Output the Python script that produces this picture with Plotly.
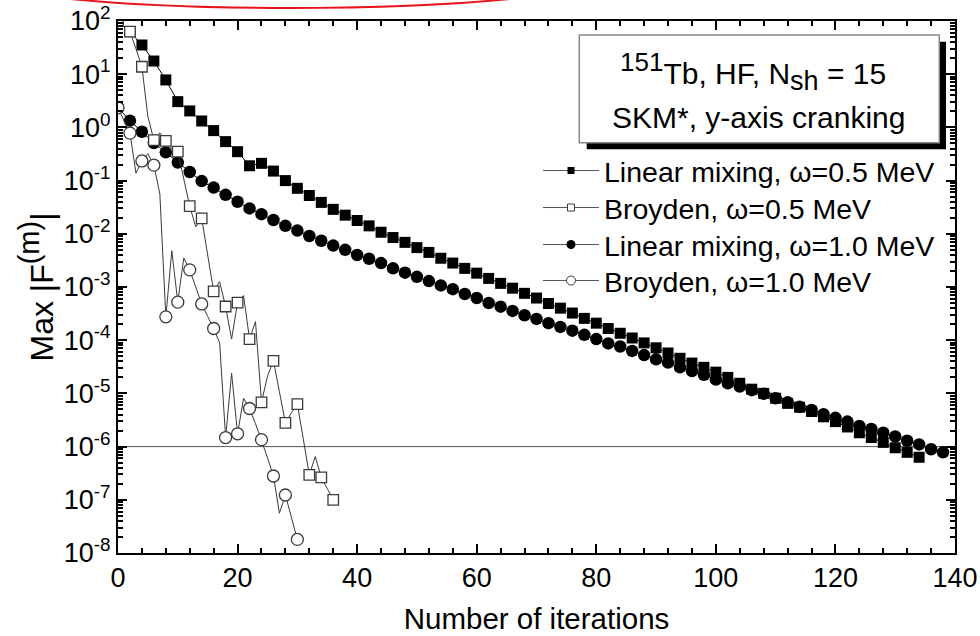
import plotly.graph_objects as go

# ---------------- data ----------------
# Linear mixing, omega = 0.5 MeV  (every 2nd iteration)
lin05_iter = list(range(0, 135, 2))
lin05_val = [
    100, 63, 35.4, 17.7, 7.8, 3.05, 2.04, 1.32, 0.87, 0.54,
    0.35, 0.19, 0.211, 0.151, 0.100, 0.0716, 0.0525, 0.0389, 0.0288, 0.0224,
    0.0178, 0.0141, 0.0107, 8.5e-3, 6.9e-3, 5.5e-3, 4.47e-3, 3.47e-3, 2.82e-3, 2.24e-3,
    1.82e-3, 1.45e-3, 1.17e-3, 9.5e-4, 7.6e-4, 6.2e-4, 4.9e-4, 4.0e-4, 3.24e-4, 2.57e-4,
    2.09e-4, 1.66e-4, 1.35e-4, 1.10e-4, 8.9e-5, 7.2e-5, 5.75e-5, 4.57e-5, 3.72e-5, 3.09e-5,
    2.51e-5, 2.0e-5, 1.55e-5, 1.20e-5, 1.0e-5, 8.1e-6, 6.5e-6, 5.5e-6, 4.57e-6, 3.63e-6,
    2.95e-6, 2.34e-6, 1.82e-6, 1.48e-6, 1.20e-6, 9.5e-7, 7.8e-7, 6.3e-7,
]

# Linear mixing, omega = 1.0 MeV  (every 2nd iteration)
lin10_iter = list(range(0, 139, 2))
lin10_val = [
    2.34, 1.34, 0.83, 0.51, 0.34, 0.219, 0.145, 0.098, 0.074, 0.054,
    0.040, 0.030, 0.0234, 0.0182, 0.0141, 0.0115, 9.1e-3, 7.4e-3, 6.0e-3, 5.0e-3,
    4.0e-3, 3.39e-3, 2.82e-3, 2.24e-3, 1.86e-3, 1.55e-3, 1.29e-3, 1.07e-3, 9.1e-4, 7.4e-4,
    6.2e-4, 5.0e-4, 4.27e-4, 3.55e-4, 2.95e-4, 2.51e-4, 2.09e-4, 1.78e-4, 1.51e-4, 1.26e-4,
    1.05e-4, 8.7e-5, 7.6e-5, 6.3e-5, 5.25e-5, 4.37e-5, 3.80e-5, 3.09e-5, 2.63e-5, 2.24e-5,
    1.82e-5, 1.55e-5, 1.35e-5, 1.15e-5, 9.8e-6, 8.1e-6, 6.8e-6, 5.6e-6, 4.9e-6, 4.07e-6,
    3.47e-6, 2.95e-6, 2.45e-6, 2.14e-6, 1.82e-6, 1.55e-6, 1.29e-6, 1.10e-6, 8.9e-7, 7.8e-7,
]

# Broyden, omega = 0.5 MeV  (every iteration; markers on even ones)
bro05_iter = list(range(0, 37))
bro05_val = [
    100, 80, 63, 30, 13.8, 1.6, 0.575, 0.79, 0.56, 0.40,
    0.35, 0.107, 0.033, 0.0135, 0.0195, 4.0e-3, 8.3e-4, 1.26e-3, 4.3e-4, 1.05e-4,
    5.1e-4, 6.9e-4, 1.05e-4, 2.24e-4, 6.8e-6, 2.1e-5, 4.1e-5, 1.07e-5, 2.8e-6, 4.3e-6,
    6.3e-6, 1.38e-6, 2.95e-7, 6.5e-7, 2.63e-7, 1.62e-7, 1.0e-7,
]

# Broyden, omega = 1.0 MeV  (every iteration; markers on even ones)
bro10_iter = list(range(0, 31))
bro10_val = [
    2.34, 1.35, 0.78, 0.138, 0.234, 0.32, 0.195, 0.056, 2.75e-4, 4.8e-3,
    5.2e-4, 3.5e-3, 2.1e-3, 1.0e-3, 4.8e-4, 2.8e-4, 1.66e-4, 8.9e-5, 1.48e-6, 2.4e-5,
    1.74e-6, 8.1e-6, 5.2e-6, 2.7e-6, 1.35e-6, 6.2e-7, 2.8e-7, 5.6e-8, 1.23e-7, 4.7e-8,
    1.8e-8,
]

threshold = 1e-6
x_range = [0, 140]
y_decades = [-8, -7, -6, -5, -4, -3, -2, -1, 0, 1, 2]
y_ticktext = ["10<sup>%d</sup>" % d for d in y_decades]

legend_names = [
    "Linear mixing, \u03c9=0.5 MeV",
    "Broyden, \u03c9=0.5 MeV",
    "Linear mixing, \u03c9=1.0 MeV",
    "Broyden, \u03c9=1.0 MeV",
]

box_line1 = ("<sup><span style='font-size:26px'>151</span></sup>Tb, HF, "
             "N<sub><span style='font-size:27px'>sh</span></sub> = 15")
box_line2 = "SKM*, y-axis cranking"
y_title = "Max |F<sup><span style='font-size:29px'>(m)</span></sup>|"

# ---------------- layout geometry ----------------
W, H = 980, 636
L, R, T, B = 118, 25, 21, 83
PW, PH = W - L - R, H - T - B


def px(xp):
    return (xp - L) / PW


def py(yp):
    return (H - B - yp) / PH


FONT = "Liberation Sans, Arial, sans-serif"
GRAY = "#3a3a3a"

fig = go.Figure()

# threshold line
fig.add_trace(go.Scatter(x=x_range, y=[threshold, threshold], mode="lines",
                         line=dict(color="#555555", width=1), showlegend=False,
                         hoverinfo="skip"))

# linear mixing
fig.add_trace(go.Scatter(x=lin05_iter, y=lin05_val, mode="lines+markers",
                         line=dict(color="black", width=1),
                         marker=dict(symbol="square", size=11, color="black"),
                         showlegend=False))
fig.add_trace(go.Scatter(x=lin10_iter, y=lin10_val, mode="lines+markers",
                         line=dict(color="black", width=1),
                         marker=dict(symbol="circle", size=12.5, color="black"),
                         showlegend=False))

# Broyden: line through every iteration, markers on the even ones
for xs, ys, sym, sz in [(bro05_iter, bro05_val, "square", 10.5),
                        (bro10_iter, bro10_val, "circle", 12)]:
    fig.add_trace(go.Scatter(x=xs, y=ys, mode="lines",
                             line=dict(color=GRAY, width=1), showlegend=False))
    ex = [a for a in xs if a % 2 == 0]
    ey = [b for a, b in zip(xs, ys) if a % 2 == 0]
    fig.add_trace(go.Scatter(x=ex, y=ey, mode="markers",
                             marker=dict(symbol=sym, size=sz, color="white",
                                         line=dict(color=GRAY, width=1.3)),
                             showlegend=False))

# legend entries (one legend per row for exact placement)
leg_styles = [
    dict(symbol="square", size=7, color="black"),
    dict(symbol="square", size=7, color="white", line=dict(color=GRAY, width=1)),
    dict(symbol="circle", size=9, color="black"),
    dict(symbol="circle", size=9, color="white", line=dict(color=GRAY, width=1)),
]
leg_ids = ["legend", "legend2", "legend3", "legend4"]
leg_rows = [171, 208, 245, 281]
for name, mk, lid in zip(legend_names, leg_styles, leg_ids):
    fig.add_trace(go.Scatter(x=[None], y=[None], mode="lines+markers", name=name,
                             line=dict(color="#555555", width=1), marker=mk,
                             legend=lid))

axis_common = dict(
    showline=True, linecolor="black", linewidth=2, mirror="allticks",
    ticks="inside", ticklen=9, tickwidth=1.5, tickcolor="black",
    showgrid=False, zeroline=False,
    tickfont=dict(family=FONT, size=27, color="black"),
)

fig.update_xaxes(range=x_range, tickmode="linear", tick0=0, dtick=20,
                 minor=dict(ticks="inside", dtick=4, ticklen=5, tickwidth=1.5,
                            tickcolor="black", showgrid=False),
                 title=dict(text="Number of iterations",
                            font=dict(family=FONT, size=29.5, color="black"),
                            standoff=16),
                 **axis_common)

minor_vals = [m * 10.0 ** d for d in y_decades[:-1] for m in range(2, 10)]
fig.update_yaxes(type="log", range=[-8, 2], tickmode="array",
                 tickvals=[10.0 ** d for d in y_decades], ticktext=y_ticktext,
                 minor=dict(ticks="inside", tickmode="array", tickvals=minor_vals,
                            ticklen=5, tickwidth=1.5, tickcolor="black",
                            showgrid=False),
                 title=dict(text=y_title,
                            font=dict(family=FONT, size=32, color="black"),
                            standoff=1),
                 **axis_common)

# red hand-drawn arc at the very top
arc_cx, arc_cy, arc_rx, arc_ry = 290, -30, 340, 38
shapes = [
    dict(type="circle", xref="paper", yref="paper",
         x0=px(arc_cx - arc_rx), x1=px(arc_cx + arc_rx),
         y0=py(arc_cy + arc_ry), y1=py(arc_cy - arc_ry),
         line=dict(color="#e8141c", width=2), layer="above"),
    # info box shadow + box
    dict(type="rect", xref="paper", yref="paper",
         x0=px(586.7), x1=px(946), y0=py(149.3), y1=py(41.7),
         fillcolor="black", line=dict(width=0), layer="above"),
    dict(type="rect", xref="paper", yref="paper",
         x0=px(579.3), x1=px(939.3), y0=py(142.7), y1=py(35),
         fillcolor="white", line=dict(color="#888888", width=1.5), layer="above"),
]

annotations = [
    dict(text=box_line1, xref="paper", yref="paper", x=px(753), y=py(71),
         xanchor="center", yanchor="middle", showarrow=False,
         font=dict(family=FONT, size=30, color="black")),
    dict(text=box_line2, xref="paper", yref="paper", x=px(758), y=py(118),
         xanchor="center", yanchor="middle", showarrow=False,
         font=dict(family=FONT, size=30, color="black")),
]

legend_layout = {}
for lid, row in zip(leg_ids, leg_rows):
    legend_layout[lid] = dict(x=px(538), y=py(row), xanchor="left", yanchor="middle",
                              bgcolor="rgba(0,0,0,0)", borderwidth=0,
                              font=dict(family=FONT, size=28.5, color="black"),
                              itemwidth=56)

fig.update_layout(
    width=W, height=H,
    margin=dict(l=L, r=R, t=T, b=B, autoexpand=False),
    paper_bgcolor="white", plot_bgcolor="white",
    showlegend=True,
    shapes=shapes, annotations=annotations,
    **legend_layout,
)

fig.write_html("out.html")
